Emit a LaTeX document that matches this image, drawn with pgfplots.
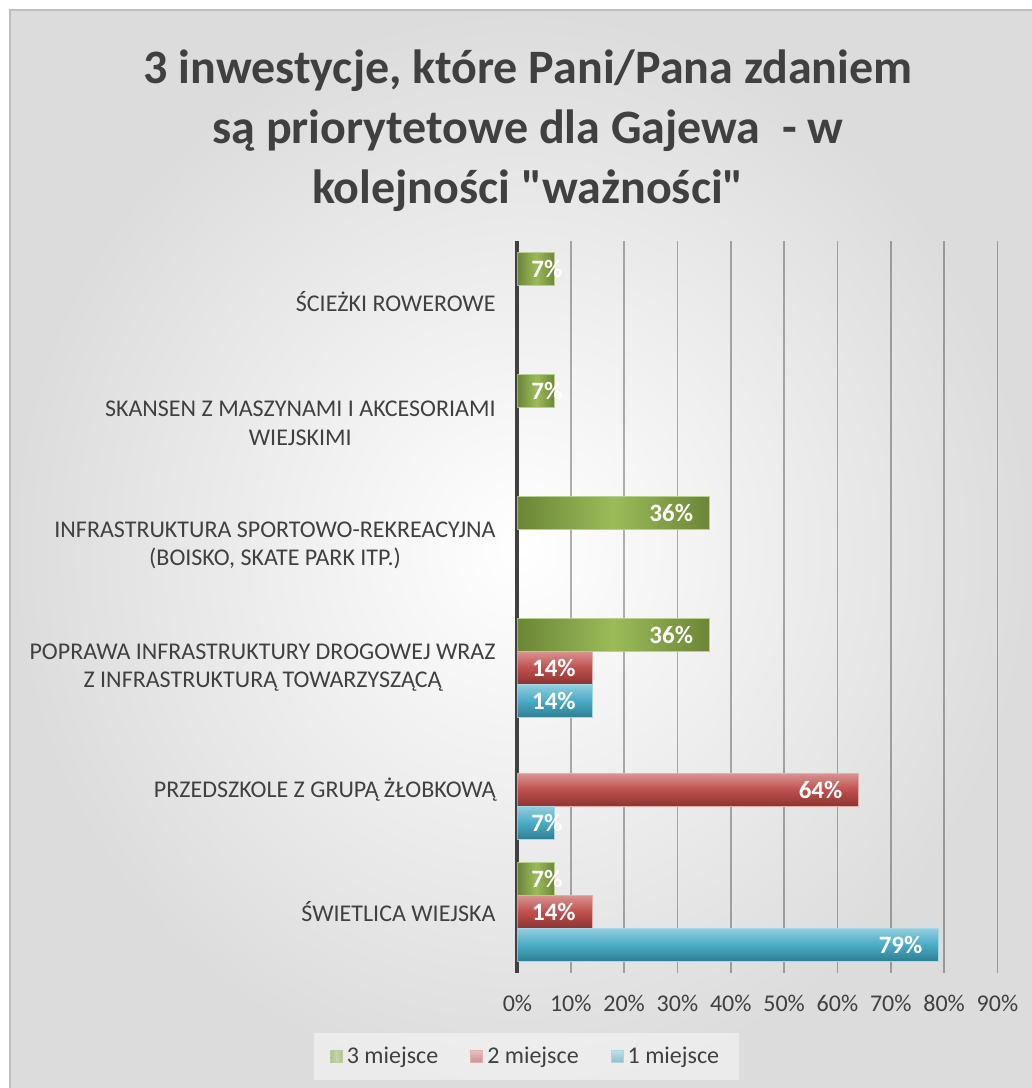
\documentclass[border=0pt]{standalone}
\usepackage{fontspec}
\setmainfont{Carlito}[Ligatures=TeXOff]
\usepackage{pgfplots}
\pgfplotsset{compat=1.18}

\definecolor{txt}{HTML}{404040}
\definecolor{bgout}{HTML}{DCDCDC}
\definecolor{frame}{HTML}{BFBFBF}
\definecolor{gA}{HTML}{9BBB59}
\definecolor{gD}{HTML}{6B8636}
\definecolor{gE}{HTML}{B9CF92}
\definecolor{rT}{HTML}{D99593}
\definecolor{rA}{HTML}{C0504D}
\definecolor{rD}{HTML}{8E3431}
\definecolor{rE}{HTML}{E3AEAC}
\definecolor{bT}{HTML}{93CFDF}
\definecolor{bA}{HTML}{4BACC6}
\definecolor{bD}{HTML}{2E7F94}
\definecolor{bE}{HTML}{A8D8E6}

% one path per bar, so that every bar gets its own gradient
\pgfplotsset{
  m3/.style={bar shift=16.5pt, draw=gE, line width=0.5pt, left color=gD, right color=gD, middle color=gA},
  m2/.style={bar shift=0pt, draw=rE, line width=0.5pt, top color=rT, bottom color=rD, middle color=rA},
  m1/.style={bar shift=-16.5pt, draw=bE, line width=0.5pt, top color=bT, bottom color=bD, middle color=bA},
}

\begin{document}
\begin{tikzpicture}
\useasboundingbox (-258.75pt,-57.75pt) rectangle (257.25pt,486.25pt);
\fill[white] (-258.75pt,-57.75pt) rectangle (257.25pt,486.25pt);
\shade[inner color=white, outer color=bgout] (-253.75pt,-57.75pt) rectangle (257.25pt,481.25pt);
\draw[frame, line width=0.8pt] (-253.75pt,-57.75pt) -- (-253.75pt,481.25pt) -- (257.25pt,481.25pt);

\node[align=center, text=txt, font=\fontsize{24}{30}\selectfont\bfseries]
  at (5.25pt,421pt) {3 inwestycje, które Pani/Pana zdaniem\\są priorytetowe dla Gajewa\ \ - w\\kolejności "ważności"};

\begin{axis}[
  scale only axis, width=240pt, height=366pt,
  xbar, bar width=16.5pt,
  xmin=0, xmax=90, ymin=-0.5, ymax=5.5,
  axis lines*=left,
  x axis line style={draw=none},
  y axis line style={txt, line width=2pt},
  /pgf/number format/assume math mode=true,
  xtick={0,10,20,30,40,50,60,70,80,90},
  xticklabels={0\%,10\%,20\%,30\%,40\%,50\%,60\%,70\%,80\%,90\%},
  xticklabel style={anchor=base, yshift=-19.25pt, font=\fontsize{12}{14}\selectfont, text=txt},
  ytick={0,1,2,3,4,5},
  yticklabels={{ŚWIETLICA WIEJSKA},{PRZEDSZKOLE Z GRUPĄ ŻŁOBKOWĄ},{POPRAWA INFRASTRUKTURY DROGOWEJ WRAZ\\Z INFRASTRUKTURĄ TOWARZYSZĄCĄ},{INFRASTRUKTURA SPORTOWO-REKREACYJNA\\(BOISKO, SKATE PARK ITP.)},{SKANSEN Z MASZYNAMI I AKCESORIAMI\\WIEJSKIMI},{ŚCIEŻKI ROWEROWE}},
  yticklabel style={align=center, anchor=east, inner sep=0pt, xshift=-6.5pt, font=\fontsize{12}{14.25}\selectfont, text=txt},
  tick style={draw=none},
  xmajorgrids, ymajorgrids=false,
  major grid style={black, opacity=0.3, line width=0.7pt},
  point meta=x,
  nodes near coords={\pgfmathprintnumber{\pgfplotspointmeta}\%},
  every node near coord/.append style={font=\fontsize{12.5}{14}\selectfont\bfseries, text=white, anchor=east, inner sep=0pt, xshift=-8pt},
  coordinate style/.condition={x<10}{xshift=12pt},
  legend columns=3,
  legend style={at={(axis description cs:0.01875,-0.1148)}, anchor=center, draw=none, fill=white, fill opacity=0.45, text opacity=1, font=\fontsize{12}{14}\selectfont, text=txt, inner xsep=8pt, inner ysep=5pt, /tikz/every even column/.append style={column sep=14pt}},
  legend image code/.code={\draw[#1, draw opacity=1] (0pt,-3pt) rectangle (6pt,3pt);},
]
\addplot[m3] coordinates {(7,0)};
\addlegendentry{3 miejsce}
\addplot[m2] coordinates {(14,0)};
\addlegendentry{2 miejsce}
\addplot[m1] coordinates {(79,0)};
\addlegendentry{1 miejsce}

\addplot[m3, forget plot] coordinates {(36,2)};
\addplot[m3, forget plot] coordinates {(36,3)};
\addplot[m3, forget plot] coordinates {(7,4)};
\addplot[m3, forget plot] coordinates {(7,5)};

\addplot[m2, forget plot] coordinates {(64,1)};
\addplot[m2, forget plot] coordinates {(14,2)};

\addplot[m1, forget plot] coordinates {(7,1)};
\addplot[m1, forget plot] coordinates {(14,2)};
\end{axis}
\end{tikzpicture}
\end{document}
